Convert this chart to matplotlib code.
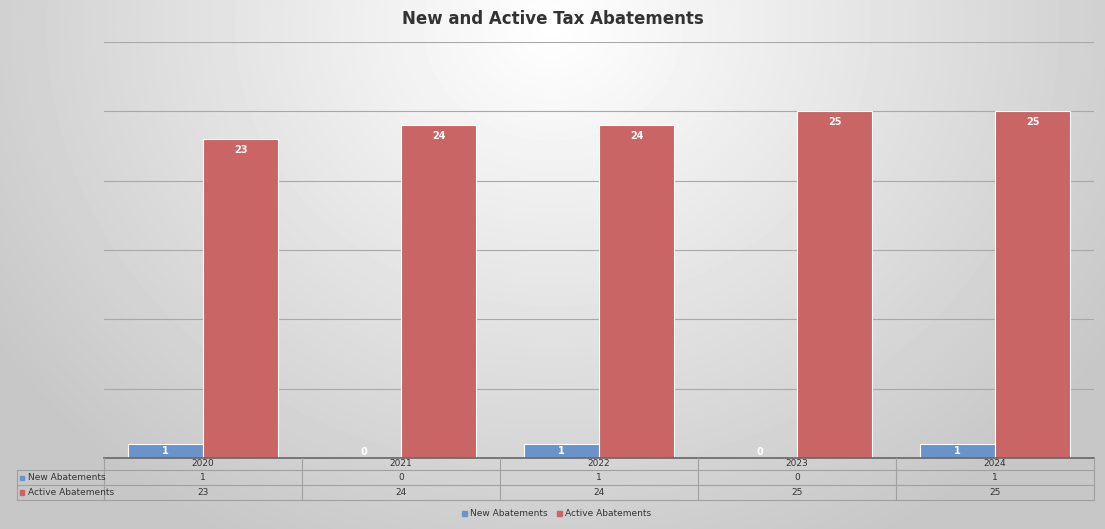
import numpy as np
import matplotlib.pyplot as plt
from matplotlib.lines import Line2D
from matplotlib.patches import Rectangle

years = ["2020", "2021", "2022", "2023", "2024"]
new_ab = [1, 0, 1, 0, 1]
active_ab = [23, 24, 24, 25, 25]
series_names = ["New Abatements", "Active Abatements"]

W, H = 1105, 529
fig = plt.figure(figsize=(W/100, H/100), dpi=100)

# radial gradient background
bg = fig.add_axes([0, 0, 1, 1], zorder=-10)
yy, xx = np.mgrid[0:H, 0:W]
r = np.sqrt(((xx - W*0.5)/(W*0.6))**2 + ((yy - H*0.05)/(H*1.1))**2)
img = np.clip(1.0 - 0.22*r, 0.78, 1.0)
bg.imshow(img, cmap="gray", vmin=0, vmax=1, aspect="auto", extent=[0, W, H, 0])
bg.set_xlim(0, W); bg.set_ylim(H, 0); bg.axis("off")

def fx(p): return p/W
def fy(p): return 1 - p/H

ax = fig.add_axes([fx(104), fy(458), fx(1094)-fx(104), fy(42)-fy(458)])
ax.set_facecolor("none")
x = np.arange(len(years))
bw = 0.375
blue, red = "#6a94c9", "#c96565"
b1 = ax.bar(x - 0.19, new_ab, bw, color=blue, edgecolor="white", linewidth=0.8, zorder=3)
b2 = ax.bar(x + 0.19, active_ab, bw, color=red, edgecolor="white", linewidth=0.8, zorder=3)
for xi, v in zip(x, new_ab):
    ax.text(xi - 0.19, v/2 if v else 0.4, str(v), ha="center", va="center", color="white",
            fontsize=7, fontweight="bold", zorder=4)
for xi, v in zip(x, active_ab):
    ax.text(xi + 0.19, v - 0.4, str(v), ha="center", va="top", color="white",
            fontsize=7, fontweight="bold", zorder=4)
ax.set_xlim(-0.5, len(years) - 0.5)
ax.set_ylim(0, 30)
ax.set_yticks(range(0, 31, 5))
ax.yaxis.grid(True, color="#a8a8a8", linewidth=0.8, zorder=0)
ax.tick_params(left=False, bottom=False, labelleft=False, labelbottom=False)
for s in ax.spines.values(): s.set_visible(False)

fig.text(0.5, fy(19), "New and Active Tax Abatements", ha="center", va="center",
         fontsize=12, fontweight="bold", color="#333333")

# data table
lc = "#a0a0a0"
rows = [458, 470, 485, 500]
colx = [104 + i*198 for i in range(6)]
def hline(y, x0, x1, c=lc, lw=0.8):
    fig.add_artist(Line2D([fx(x0), fx(x1)], [fy(y), fy(y)], color=c, lw=lw))
def vline(xp, y0, y1):
    fig.add_artist(Line2D([fx(xp), fx(xp)], [fy(y0), fy(y1)], color=lc, lw=0.8))
hline(458, 104, 1094, c="#666666", lw=1.2)
hline(470, 17, 1094); hline(485, 17, 1094); hline(500, 17, 1094)
for cx in colx: vline(cx, 458, 500)
vline(17, 470, 500)
for i, yr in enumerate(years):
    cx = 104 + 99 + i*198
    fig.text(fx(cx), fy(464), yr, ha="center", va="center", fontsize=6.5, color="#333333")
    fig.text(fx(cx), fy(477.5), str(new_ab[i]), ha="center", va="center", fontsize=6.5, color="#333333")
    fig.text(fx(cx), fy(492.5), str(active_ab[i]), ha="center", va="center", fontsize=6.5, color="#333333")
for yc, name, c in [(477.5, series_names[0], blue), (492.5, series_names[1], red)]:
    fig.add_artist(Rectangle((fx(20), fy(yc+2)), fx(4), fy(yc-2)-fy(yc+2), color=c))
    fig.text(fx(28), fy(yc), name, ha="left", va="center", fontsize=6.5, color="#333333")

# legend
for lx, name, c in [(462, series_names[0], blue), (557, series_names[1], red)]:
    fig.add_artist(Rectangle((fx(lx), fy(516)), fx(5), fy(511)-fy(516), color=c))
    fig.text(fx(lx+8), fy(513.5), name, ha="left", va="center", fontsize=6.5, color="#333333")

fig.savefig("out.png", dpi=100)
